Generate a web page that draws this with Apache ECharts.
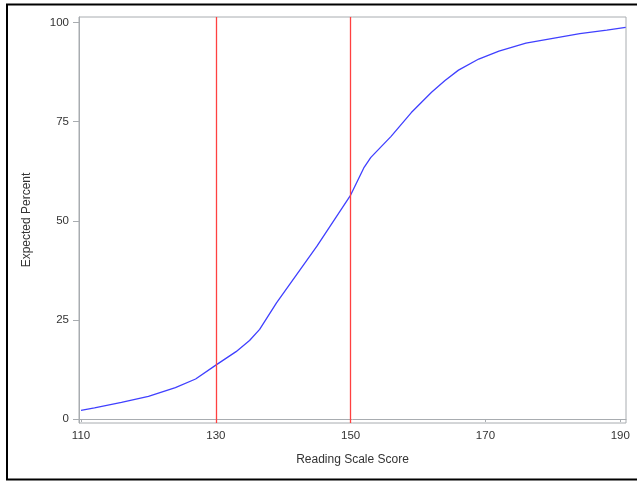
<!DOCTYPE html>
<html>
<head>
<meta charset="utf-8">
<script src="https://cdn.jsdelivr.net/npm/echarts@6/dist/echarts.min.js"></script>
<style>
html,body{margin:0;padding:0;background:#fff;overflow:hidden;}
#chart{width:637px;height:482px;}
</style>
</head>
<body>
<div id="chart"></div>
<script>
var scores = [110, 112, 116, 120, 124, 127, 130, 133, 135, 136.5, 139, 145, 150, 152, 153, 156, 159, 162, 164, 166, 169, 172, 176, 180, 184, 188, 190.8];
var expectedPercent = [2.2, 2.8, 4.2, 5.7, 7.9, 10.1, 13.6, 17.0, 19.8, 22.6, 29.3, 43.6, 56.5, 63.5, 66.0, 71.3, 77.3, 82.4, 85.4, 88.0, 90.8, 92.8, 94.8, 96.0, 97.2, 98.1, 98.8];
var refLines = [130, 150];
var xTicks = [110, 130, 150, 170, 190];
var yTicks = [0, 25, 50, 75, 100];

var pts = scores.map(function(s, i){ return [s, expectedPercent[i]]; });
var font = 'Liberation Sans, Arial, sans-serif';
var chart = echarts.init(document.getElementById('chart'), null, {renderer:'canvas'});
chart.setOption({
  animation: false,
  backgroundColor: '#fff',
  graphic: [{
    type: 'rect',
    shape: {x: 7, y: 4.5, width: 700, height: 475},
    style: {fill: 'none', stroke: '#000', lineWidth: 2},
    silent: true
  }],
  grid: {left: 79, top: 17, right: 11, bottom: 59, show: true, borderColor: '#a8acb0', borderWidth: 1, backgroundColor: 'transparent'},
  xAxis: {
    type: 'value', min: 109.7, max: 190.85,
    name: 'Reading Scale Score', nameLocation: 'middle', nameGap: 31,
    nameTextStyle: {color: '#333', fontSize: 12, fontFamily: font},
    axisLine: {show: true, lineStyle: {color: '#a8acb0'}},
    axisTick: {show: true, length: 3, lineStyle: {color: '#a8acb0'}, customValues: xTicks},
    axisLabel: {color: '#333', fontSize: 11.5, fontFamily: font, margin: 7, customValues: xTicks},
    splitLine: {show: false}
  },
  yAxis: {
    type: 'value', min: -1, max: 101.4,
    name: 'Expected Percent', nameLocation: 'middle', nameGap: 46, nameRotate: 90,
    nameTextStyle: {color: '#333', fontSize: 12, fontFamily: font},
    axisLine: {show: true, lineStyle: {color: '#a8acb0'}},
    axisTick: {show: true, length: 6, lineStyle: {color: '#a8acb0'}, customValues: yTicks},
    axisLabel: {color: '#333', fontSize: 11.5, fontFamily: font, margin: 10, customValues: yTicks},
    splitLine: {show: false}
  },
  series: [{
    type: 'line',
    data: pts,
    showSymbol: false,
    smooth: false,
    lineStyle: {color: '#4040ff', width: 1.3},
    markLine: {
      silent: true,
      symbol: 'none',
      label: {show: false},
      lineStyle: {color: '#ff4040', width: 1.3, type: 'solid'},
      data: refLines.map(function(v){ return {xAxis: v}; })
    }
  }]
});
</script>
</body>
</html>
